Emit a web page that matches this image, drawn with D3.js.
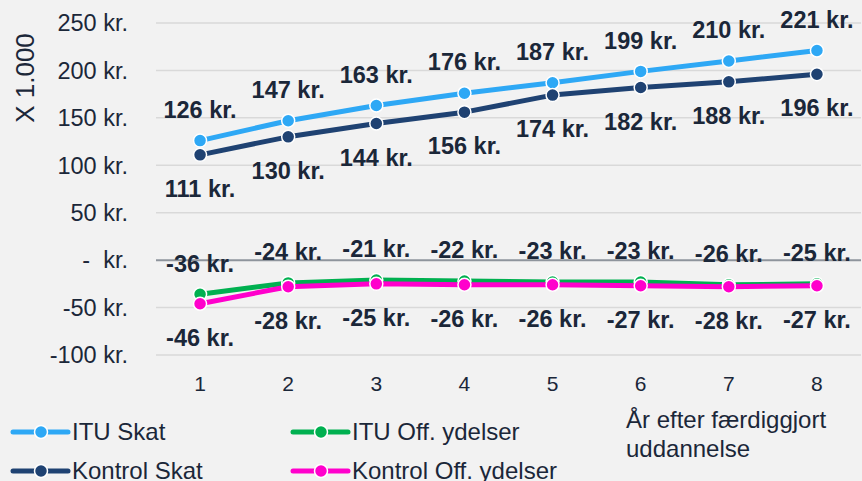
<!DOCTYPE html>
<html>
<head>
<meta charset="utf-8">
<script src="https://cdn.jsdelivr.net/npm/d3@7"></script>
<style>
  html, body { margin: 0; padding: 0; background: #f2f2f2; }
  svg { display: block; font-family: "Liberation Sans", Arial, sans-serif; }
</style>
</head>
<body>
<script>
const years = [1, 2, 3, 4, 5, 6, 7, 8];
const ituSkat = [126, 147, 163, 176, 187, 199, 210, 221];
const kontrolSkat = [111, 130, 144, 156, 174, 182, 188, 196];
const ituOff = [-36, -24, -21, -22, -23, -23, -26, -25];
const kontrolOff = [-46, -28, -25, -26, -26, -27, -28, -27];
const yTicks = [-100, -50, 0, 50, 100, 150, 200, 250];

const series = [
  {name: "ITU Skat", values: ituSkat, color: "#2ea8f5", label: "above"},
  {name: "Kontrol Skat", values: kontrolSkat, color: "#1f4272", label: "below"},
  {name: "ITU Off. ydelser", values: ituOff, color: "#00b050", label: "above"},
  {name: "Kontrol Off. ydelser", values: kontrolOff, color: "#ff00cc", label: "below"}
];

const width = 862, height = 481;
const textColor = "#1b2739";

const svg = d3.select("body").append("svg")
    .attr("width", width)
    .attr("height", height);

const x = d3.scaleBand()
    .domain(years)
    .range([156, 861]);

const y = d3.scaleLinear()
    .domain([-100, 250])
    .range([355, 23]);

// gridlines
svg.append("g")
  .selectAll("line")
  .data(yTicks)
  .join("line")
    .attr("x1", 156)
    .attr("x2", 861)
    .attr("y1", d => y(d))
    .attr("y2", d => y(d))
    .attr("stroke", d => d === 0 ? "#8e949c" : "#d9d9d9")
    .attr("stroke-width", d => d === 0 ? 2 : 1.5);

// y tick labels
svg.append("g")
    .attr("font-size", 23.5)
    .attr("fill", textColor)
    .attr("text-anchor", "end")
  .selectAll("text")
  .data(yTicks)
  .join("text")
    .attr("x", 128)
    .attr("y", d => y(d))
    .attr("dy", "0.35em")
    .attr("xml:space", "preserve")
    .text(d => d === 0 ? "-  kr." : `${d} kr.`);

// y title
svg.append("text")
    .attr("transform", "translate(34,78) rotate(-90)")
    .attr("text-anchor", "middle")
    .attr("font-size", 26)
    .attr("fill", textColor)
    .text("X 1.000");

// x tick labels
svg.append("g")
    .attr("font-size", 21)
    .attr("fill", textColor)
    .attr("text-anchor", "middle")
  .selectAll("text")
  .data(years)
  .join("text")
    .attr("x", d => x(d) + x.bandwidth() / 2)
    .attr("y", 384)
    .attr("dy", "0.35em")
    .text(d => d);

const line = d3.line()
    .x((d, i) => x(years[i]) + x.bandwidth() / 2)
    .y(d => y(d));

const groups = svg.append("g")
  .selectAll("g")
  .data(series)
  .join("g");

groups.append("path")
    .attr("fill", "none")
    .attr("stroke", d => d.color)
    .attr("stroke-width", 5)
    .attr("stroke-linejoin", "round")
    .attr("d", d => line(d.values));

groups.selectAll("circle")
  .data(d => d.values.map((v, i) => ({v, i, s: d})))
  .join("circle")
    .attr("cx", d => x(years[d.i]) + x.bandwidth() / 2)
    .attr("cy", d => y(d.v))
    .attr("r", 6.5)
    .attr("fill", d => d.s.color)
    .attr("stroke", "#fff")
    .attr("stroke-width", 1.5);

// data labels
svg.append("g")
    .attr("font-size", 23.5)
    .attr("font-weight", "bold")
    .attr("fill", textColor)
    .attr("text-anchor", "middle")
  .selectAll("text")
  .data(series.flatMap(s => s.values.map((v, i) => ({v, i, s}))))
  .join("text")
    .attr("x", d => x(years[d.i]) + x.bandwidth() / 2)
    .attr("y", d => y(d.v) + (d.s.label === "above" ? -31 : 34))
    .attr("dy", "0.35em")
    .text(d => `${d.v} kr.`);

// legend
const legendPos = [[13, 432], [13, 471], [293, 432], [293, 471]];
const legend = svg.append("g")
  .selectAll("g")
  .data(series)
  .join("g")
    .attr("transform", (d, i) => `translate(${legendPos[i][0]},${legendPos[i][1]})`);

legend.append("line")
    .attr("x1", 0)
    .attr("x2", 55)
    .attr("stroke", d => d.color)
    .attr("stroke-width", 5)
    .attr("stroke-linecap", "round");

legend.append("circle")
    .attr("cx", 28)
    .attr("r", 6.5)
    .attr("fill", d => d.color)
    .attr("stroke", "#fff")
    .attr("stroke-width", 1.5);

legend.append("text")
    .attr("x", 59)
    .attr("dy", "0.35em")
    .attr("font-size", 24)
    .attr("fill", textColor)
    .text(d => d.name);

// x axis title
const xTitle = svg.append("text")
    .attr("font-size", 24)
    .attr("fill", textColor);
xTitle.append("tspan").attr("x", 626).attr("y", 428).text("År efter færdiggjort");
xTitle.append("tspan").attr("x", 626).attr("y", 457).text("uddannelse");
</script>
</body>
</html>
